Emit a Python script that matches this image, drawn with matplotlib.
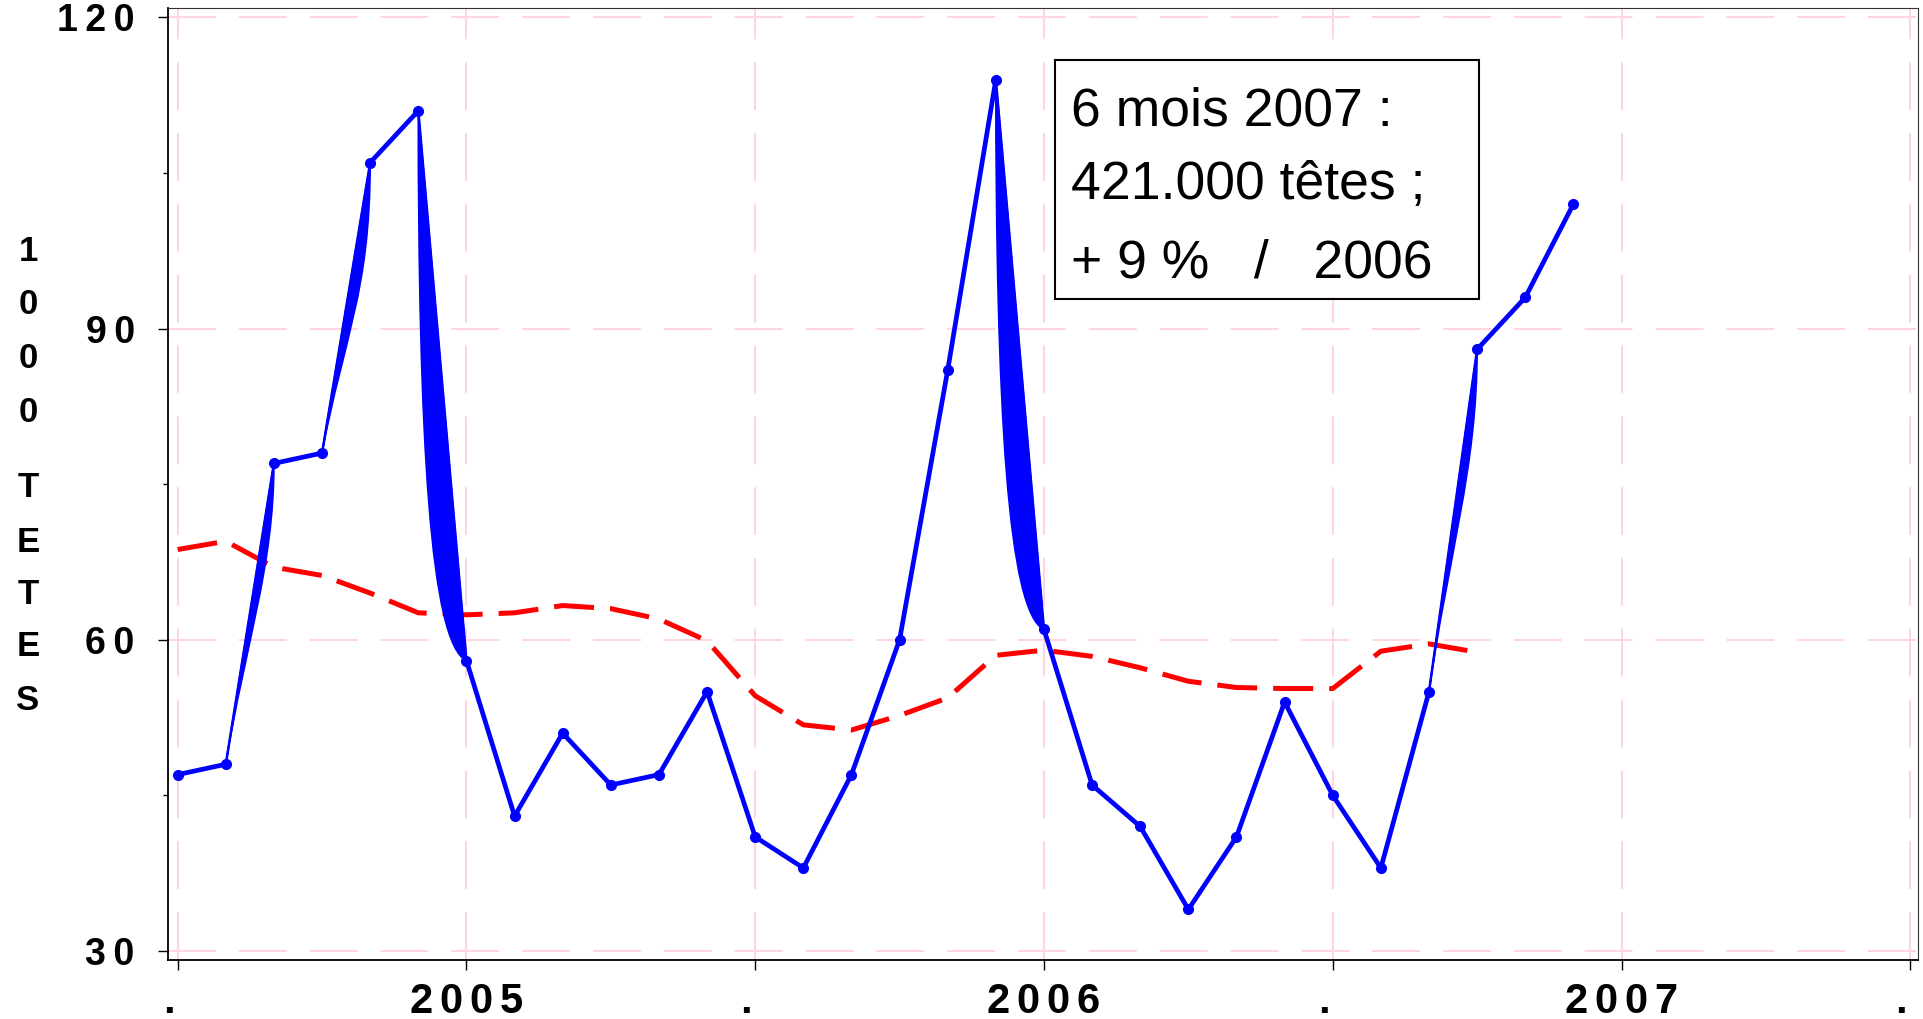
import numpy as np
import matplotlib
matplotlib.use("Agg")
import matplotlib.pyplot as plt
import matplotlib.transforms as mtransforms
from matplotlib.path import Path
from matplotlib.patches import PathPatch, Rectangle
from matplotlib.collections import LineCollection

plt.rcParams['font.family'] = ['Liberation Sans', 'DejaVu Sans']

# monthly slaughter, thousand head, Jan 2005 .. Jun 2007
abattages = [47, 48, 77, 78, 106, 111, 58, 43, 51, 46, 47, 55,
             41, 38, 47, 60, 86, 114, 61, 46, 42, 34, 41, 54,
             45, 38, 55, 88, 93, 102]
# smoothed trend, Jan 2005 .. Apr 2007
tendance = [68.7, 69.5, 67.0, 66.2, 64.5, 62.6, 62.4, 62.6, 63.3, 63.0, 62.0, 59.9,
            54.6, 51.8, 51.3, 52.7, 54.4, 58.5, 59.0, 58.4, 57.3, 56.0, 55.4, 55.3,
            55.3, 58.9, 59.6, 58.8]

xtick_pos = [0, 6, 12, 18, 24, 30, 36]
xtick_labels = ['.', '2\u20060\u20060\u20065', '.', '2\u20060\u20060\u20066', '.',
                '2\u20060\u20060\u20067', '.']
ytick_pos = [30, 60, 90, 120]
ytick_labels = ['3\u20090', '6\u20090', '9\u20090', '1\u20092\u20090']

# segments drawn with the odd spline "wedge" of the original
wedge_segments = [1, 3, 5, 17, 26]
# shape of the curved side: (c1 y, c2 x, c2 y) as fractions from high to low end
wedge_shape = [(0.35, 0.6, 0.6), (0.45, 0.55, 0.6), (0.6, 0.25, 0.97),
               (0.6, 0.25, 0.97), (0.35, 0.6, 0.6)]

note_lines = ['6 mois 2007 :', '421.000 têtes ;', '+ 9 %   /   2006']

BLUE = '#0000ff'
RED = '#ff0000'
PINK = '#ffd6e0'

fig = plt.figure(figsize=(19.23, 10.19), dpi=100)
ax = fig.add_axes([0.0875, 0.0579, 0.9099, 0.9342])

x = np.arange(len(abattages))
y = np.array(abattages, dtype=float)

# grid
ax.set_axisbelow(True)
ax.grid(True, which='major', color=PINK, linewidth=1.5, linestyle=(0, (23, 11)))

# trend
xt = np.arange(len(tendance))
ax.plot(xt, tendance, color=RED, linewidth=3.6, linestyle=(0, (8, 3.2)),
        dash_capstyle='butt', zorder=2)

# wedges
for i, (a1, b2, c2y) in zip(wedge_segments, wedge_shape):
    xa, ya, xb, yb = x[i], y[i], x[i + 1], y[i + 1]
    if ya >= yb:
        xh, yh, xl, yl = xa, ya, xb, yb
    else:
        xh, yh, xl, yl = xb, yb, xa, ya
    dx, dy = xl - xh, yl - yh
    c1 = (xh, yh + dy * a1)
    c2 = (xh + dx * b2, yh + dy * c2y)
    verts = [(xh, yh), (xl, yl), c2, c1, (xh, yh), (xh, yh)]
    codes = [Path.MOVETO, Path.LINETO, Path.CURVE4, Path.CURVE4, Path.CURVE4, Path.CLOSEPOLY]
    ax.add_patch(PathPatch(Path(verts, codes), facecolor=BLUE, edgecolor=BLUE,
                           linewidth=1.2, zorder=3))

# main series
segs = [[(x[i], y[i]), (x[i + 1], y[i + 1])] for i in range(len(x) - 1)]
widths = [1.8 if i in wedge_segments else 3.4 for i in range(len(segs))]
ax.add_collection(LineCollection(segs, colors=BLUE, linewidths=widths,
                                 capstyle='round', zorder=3))
ax.plot(x, y, linestyle='none', marker='o', markersize=7, color=BLUE, zorder=4)

ax.set_xlim(-0.195, 36.16)
ax.set_ylim(29.13, 120.9)

ax.set_xticks(xtick_pos)
ax.set_xticklabels(xtick_labels, fontsize=30, fontweight='bold')
ax.set_yticks(ytick_pos)
ax.set_yticklabels(ytick_labels, fontsize=27, fontweight='bold')
ax.set_yticks([45, 75, 105], minor=True)
ax.tick_params(axis='both', which='major', length=7.2, width=1.0, direction='out')
ax.tick_params(axis='y', which='minor', length=3.6, width=1.0, direction='out')
ax.tick_params(axis='x', pad=9)
ax.tick_params(axis='y', pad=17)

# the "." labels sit a little left of their ticks
dot_shift = mtransforms.ScaledTranslation(-9 / 100, 0, fig.dpi_scale_trans)
for lab in ax.get_xticklabels():
    if lab.get_text() == '.':
        lab.set_transform(lab.get_transform() + dot_shift)

for side in ['left', 'bottom']:
    ax.spines[side].set_linewidth(1.3)
    ax.spines[side].set_color('black')
for side in ['top', 'right']:
    ax.spines[side].set_linewidth(0.8)
    ax.spines[side].set_color('#333333')

# vertical axis title, one character per line
W, H = 1923, 1019
for ch, py in zip('1000', [252, 304, 359, 413]):
    fig.text(28 / W, 1 - py / H, ch, fontsize=25, fontweight='bold', ha='center', va='center')
for ch, py in zip('TETES', [488, 542, 595, 647, 700]):
    fig.text(28 / W, 1 - py / H, ch, fontsize=25, fontweight='bold', ha='center', va='center')

# note box
ax.add_patch(Rectangle((0.507, 0.6943), 0.2422, 0.2511, transform=ax.transAxes,
                       facecolor='white', edgecolor='black', linewidth=1.5, zorder=5))
for line, yb in zip(note_lines, [0.8771, 0.7994, 0.7174]):
    ax.text(0.516, yb, line, transform=ax.transAxes, fontsize=38.5, va='baseline',
            ha='left', zorder=6)

fig.savefig('out.png', dpi=100)
